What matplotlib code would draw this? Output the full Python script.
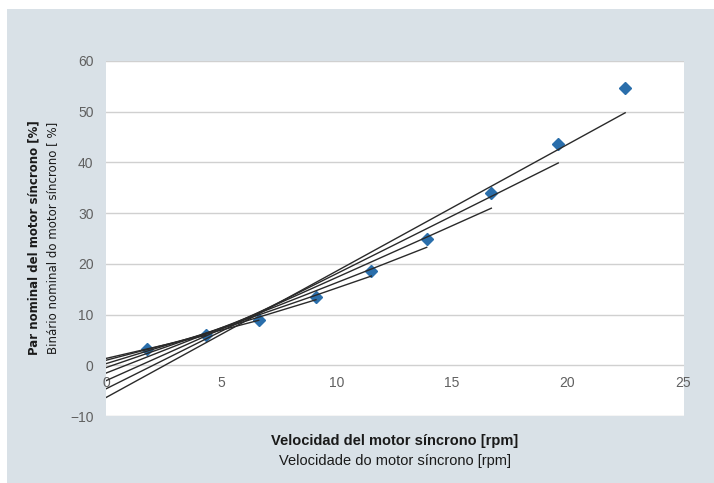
import numpy as np
import matplotlib
matplotlib.use("Agg")
import matplotlib.pyplot as plt
from matplotlib.patches import Rectangle

# Data
speed = [1.76, 4.33, 6.62, 9.1, 11.5, 13.9, 16.7, 19.6, 22.5]
torque = [3.2, 5.9, 9.0, 13.4, 18.5, 25.0, 33.9, 43.7, 54.7]
fit_counts = [2, 3, 4, 5, 6, 7, 8, 9]   # trend lines fitted on first k points
yticks = [-10, 0, 10, 20, 30, 40, 50, 60]
xticks = [0, 5, 10, 15, 20, 25]
xlabel_es = "Velocidad del motor síncrono [rpm]"
xlabel_pt = "Velocidade do motor síncrono [rpm]"
ylabel_es = "Par nominal del motor síncrono [%]"
ylabel_pt = "Binário nominal do motor síncrono [ %]"

W, H = 714, 483
fig = plt.figure(figsize=(W / 100, H / 100), dpi=100, facecolor="white")
bg = Rectangle((7 / W, 0), 1 - 7 / W, 1 - 9 / H, transform=fig.transFigure,
               facecolor="#d9e1e7", edgecolor="none", zorder=-10)
fig.patches.append(bg)

ax = fig.add_axes([106 / W, 1 - 416 / H, (684 - 106) / W, (416 - 61) / H])
ax.set_zorder(5)
ax.set_facecolor("white")
ax.set_xlim(0, 25.05)
ax.set_ylim(-10, 60)

for s in ["top", "right", "left"]:
    ax.spines[s].set_visible(False)
ax.spines["bottom"].set_position(("data", 0))
ax.spines["bottom"].set_visible(False)

ax.set_yticks(yticks)
ax.set_xticks(xticks)
ax.yaxis.grid(True, color="#d0d0d0", lw=1.0)
ax.set_axisbelow(True)
ax.tick_params(axis="both", length=0, labelcolor="#606060")
ax.tick_params(axis="y", pad=9)
ax.tick_params(axis="x", pad=8)
tickfont = "Liberation Sans"
for lab in ax.get_xticklabels() + ax.get_yticklabels():
    lab.set_fontfamily(tickfont)
    lab.set_fontsize(10)

x = np.array(speed)
y = np.array(torque)
for k in fit_counts:
    m, b = np.polyfit(x[:k], y[:k], 1)
    xs = np.array([0, x[k - 1]])
    ax.plot(xs, m * xs + b, color="#2a2a2a", lw=1.0, zorder=4)

ax.plot(x, y, linestyle="none", marker="D", ms=6.5, color="#2a6eab",
        markeredgecolor="#2a6eab", zorder=3)

labfont = "Liberation Sans"
fig.text(395 / W, 1 - 441 / H, xlabel_es, ha="center", va="center",
         fontsize=10.5, fontweight="bold", family=labfont, color="#1a1a1a")
fig.text(395 / W, 1 - 461 / H, xlabel_pt, ha="center", va="center",
         fontsize=10.5, family=labfont, color="#1a1a1a")
fig.text(34 / W, 1 - 238 / H, ylabel_es, ha="center", va="center", rotation=90,
         fontsize=8.5, fontweight="bold", family="DejaVu Sans", color="#1a1a1a")
fig.text(53 / W, 1 - 238 / H, ylabel_pt, ha="center", va="center", rotation=90,
         fontsize=8.5, family="DejaVu Sans", color="#1a1a1a")

fig.savefig("out.png", dpi=100, facecolor="white")
